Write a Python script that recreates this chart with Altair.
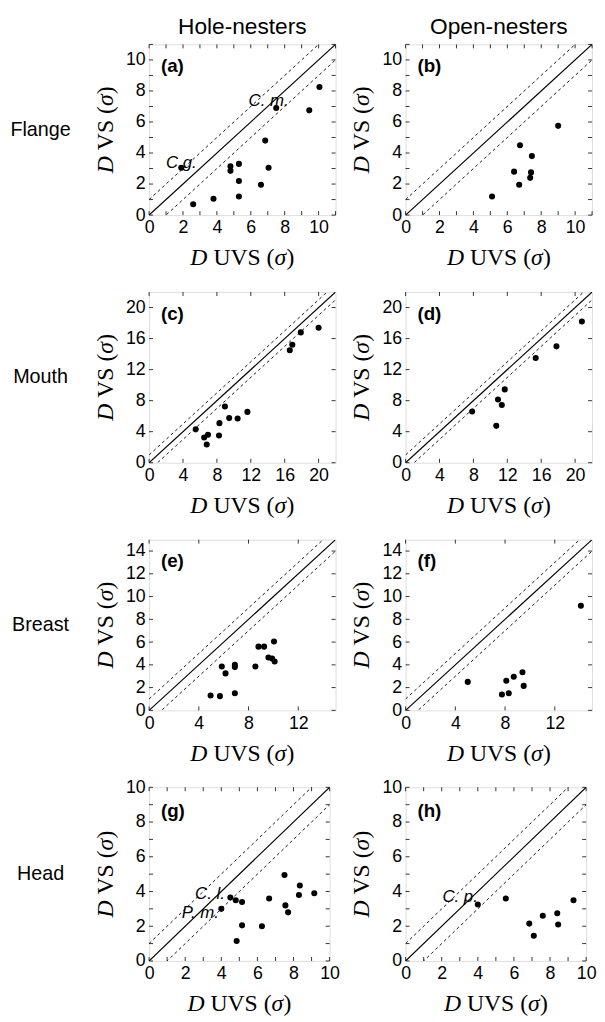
import altair as alt
import pandas as pd

# ---------------- data ----------------
flange_hole_x = [1.9, 2.6, 3.8, 4.8, 4.8, 5.3, 5.3, 5.3, 6.6, 6.85, 7.05, 7.5, 9.45, 10.05]
flange_hole_y = [3.05, 0.7, 1.05, 3.15, 2.85, 3.3, 2.2, 1.2, 1.95, 4.8, 3.05, 6.9, 6.75, 8.25]
flange_open_x = [5.1, 6.4, 6.7, 6.75, 7.35, 7.4, 7.45, 9.0]
flange_open_y = [1.2, 2.8, 1.95, 4.5, 2.4, 2.75, 3.8, 5.75]

mouth_hole_x = [5.5, 6.5, 6.95, 6.8, 8.3, 8.25, 8.95, 9.45, 10.45, 11.6, 16.6, 16.9, 17.9, 20.0]
mouth_hole_y = [4.3, 3.25, 3.6, 2.35, 5.1, 3.5, 7.25, 5.75, 5.7, 6.55, 14.5, 15.2, 16.8, 17.4]
mouth_open_x = [7.85, 10.7, 10.9, 11.35, 11.7, 15.35, 17.8, 20.8]
mouth_open_y = [6.6, 4.75, 8.15, 7.45, 9.45, 13.5, 15.0, 18.2]

breast_hole_x = [4.95, 5.7, 5.85, 6.15, 6.9, 6.9, 6.9, 8.55, 8.8, 9.25, 9.6, 9.9, 10.1, 10.05]
breast_hole_y = [1.3, 1.25, 3.85, 3.25, 4.0, 3.8, 1.5, 3.85, 5.6, 5.6, 4.65, 4.55, 4.3, 6.05]
breast_open_x = [5.0, 7.75, 8.3, 8.1, 8.7, 9.4, 9.5, 14.1]
breast_open_y = [2.5, 1.4, 1.5, 2.6, 2.95, 3.35, 2.15, 9.2]

head_hole_x = [4.0, 4.5, 4.8, 5.15, 5.15, 4.85, 6.25, 6.65, 7.5, 7.55, 7.7, 8.35, 8.3, 9.15]
head_hole_y = [3.0, 3.65, 3.5, 3.4, 2.05, 1.15, 2.0, 3.6, 4.95, 3.2, 2.8, 4.35, 3.8, 3.9]
head_open_x = [4.0, 5.55, 6.85, 7.1, 7.6, 8.4, 8.45, 9.3]
head_open_y = [3.25, 3.6, 2.15, 1.45, 2.6, 2.75, 2.1, 3.5]

row_names = ["Flange", "Mouth", "Breast", "Head"]
col_names = ["Hole-nesters", "Open-nesters"]
panel_letters = ["(a)", "(b)", "(c)", "(d)", "(e)", "(f)", "(g)", "(h)"]

axis_max = [11, 22, 15, 10]
x_labels = [[0, 2, 4, 6, 8, 10], [0, 4, 8, 12, 16, 20], [0, 4, 8, 12], [0, 2, 4, 6, 8, 10]]
y_labels = [[0, 2, 4, 6, 8, 10], [0, 4, 8, 12, 16, 20], [0, 2, 4, 6, 8, 10, 12, 14], [0, 2, 4, 6, 8, 10]]
x_ticks = [list(range(0, 12)), [0, 4, 8, 12, 16, 20], [0, 4, 8, 12], list(range(0, 11))]
y_ticks = [list(range(0, 12)), [0, 4, 8, 12, 16, 20], [0, 2, 4, 6, 8, 10, 12, 14], list(range(0, 11))]

diag_offsets = [0, 1, -1]

# species annotations: (panel index, point index, text)
notes = [(0, 0, "C.g."), (0, 11, "C. m."), (6, 0, "P. m."), (6, 1, "C. l."), (7, 0, "C. p.")]

# ---------------- styling ----------------
SANS = "Liberation Sans"
SERIF = "Liberation Serif"
panel_w = [189, 189, 189, 183]
panel_h = [173, 173, 173, 176]
note_style = {
    "C.g.": dict(align="center", dx=0, dy=-5),
    "C. m.": dict(align="left", dx=-28, dy=-7),
    "P. m.": dict(align="right", dx=-2.5, dy=4),
    "C. l.": dict(align="right", dx=-5.5, dy=-3.5),
    "C. p.": dict(align="right", dx=0, dy=-7.5),
}

one = pd.DataFrame({"a": [0]})


def txt(s, x, y, size, font, style="normal", weight="normal", align="left",
        baseline="alphabetic", angle=None):
    kw = dict(text=s, font=font, fontSize=size, fontStyle=style, fontWeight=weight,
              align=align, baseline=baseline, color="black")
    if angle is not None:
        kw["angle"] = angle
    return alt.Chart(one).mark_text(**kw).encode(x=alt.value(x), y=alt.value(y))


def axis_title(word, w, h, horizontal):
    S = 24
    em_D, em_sig, em_par = 0.722, 0.5, 0.333
    em_sp = 0.25
    em_mid = {"UVS": 0.722 + 0.722 + 0.556, "VS": 0.722 + 0.556}[word] + em_sp + em_par
    total = (em_D + em_sp + em_mid + em_sig + em_par) * S
    offs = [0, (em_D + em_sp) * S, (em_D + em_sp + em_mid) * S,
            (em_D + em_sp + em_mid + em_sig) * S]
    parts = [("D", "italic"), (word + " (", "normal"), ("σ", "italic"), (")", "normal")]
    out = []
    if horizontal:
        start = w / 2 - total / 2
        for (s, st), o in zip(parts, offs):
            out.append(txt(s, start + o, h + 51, S, SERIF, style=st))
    else:
        start = h / 2 + total / 2
        for (s, st), o in zip(parts, offs):
            out.append(txt(s, -36.7, start - o, S, SERIF, style=st, angle=270))
    return out


def panel(idx, xs, ys):
    r, c = idx // 2, idx % 2
    w, h, m = panel_w[r], panel_h[r], axis_max[r]
    xsc = alt.Scale(domain=[0, m], nice=False, zero=False)
    ysc = alt.Scale(domain=[0, m], nice=False, zero=False)
    ax_common = dict(title=None, grid=False, domain=False, ticks=False, tickSize=0,
                     labelFont=SANS, labelFontSize=18, labelColor="black",
                     labelPadding=4, labelOverlap=False)
    axx = alt.Axis(values=x_labels[r], labelFlush=False, **ax_common)
    axy = alt.Axis(values=y_labels[r], **ax_common)

    X = lambda: alt.X("x:Q", scale=xsc, axis=axx)
    Y = lambda: alt.Y("y:Q", scale=ysc, axis=axy)

    rows = []
    for k, off in enumerate(diag_offsets):
        rows.append({"x": 0, "y": 0 + off, "k": k})
        rows.append({"x": m, "y": m + off, "k": k})
    diag = pd.DataFrame(rows)

    layers = []
    pts = pd.DataFrame({"x": xs, "y": ys})
    layers.append(alt.Chart(pts).mark_circle(size=38, color="black", opacity=1)
                  .encode(x=X(), y=Y()))
    layers.append(alt.Chart(diag[diag.k == 0]).mark_line(color="black", strokeWidth=1.2, clip=True)
                  .encode(x=X(), y=Y()))
    layers.append(alt.Chart(diag[diag.k != 0]).mark_line(color="black", strokeWidth=0.9,
                                                          strokeDash=[3, 3], clip=True)
                  .encode(x=X(), y=Y(), detail="k:N"))

    tx = pd.DataFrame({"x": x_ticks[r]})
    ty = pd.DataFrame({"y": y_ticks[r]})
    rule = dict(color="black", strokeWidth=0.8)
    layers.append(alt.Chart(tx).mark_rule(**rule).encode(x=X(), y=alt.value(h - 4), y2=alt.value(h)))
    layers.append(alt.Chart(tx).mark_rule(**rule).encode(x=X(), y=alt.value(0), y2=alt.value(4)))
    layers.append(alt.Chart(ty).mark_rule(**rule).encode(y=Y(), x=alt.value(0), x2=alt.value(4)))
    layers.append(alt.Chart(ty).mark_rule(**rule).encode(y=Y(), x=alt.value(w - 4), x2=alt.value(w)))

    for (pi, k, lab) in notes:
        if pi == idx:
            st = note_style[lab]
            d = pd.DataFrame({"x": [xs[k]], "y": [ys[k]]})
            layers.append(alt.Chart(d).mark_text(text=lab, font=SANS, fontSize=17,
                                                 fontStyle="italic", color="black",
                                                 align=st["align"], dx=st["dx"], dy=st["dy"])
                          .encode(x=X(), y=Y()))

    layers.append(txt(panel_letters[idx], 12, 28 if h == 173 else 30, 19, SANS, weight="bold"))
    layers += axis_title("UVS", w, h, True)
    layers += axis_title("VS", w, h, False)
    if c == 0:
        layers.append(txt(row_names[r], -110, h / 2, 20, SANS, align="center", baseline="middle"))
    if r == 0:
        layers.append(txt(col_names[c], w / 2, -11, 23, SANS, align="center"))

    return alt.layer(*layers).properties(width=w, height=h)


series = [
    (flange_hole_x, flange_hole_y), (flange_open_x, flange_open_y),
    (mouth_hole_x, mouth_hole_y), (mouth_open_x, mouth_open_y),
    (breast_hole_x, breast_hole_y), (breast_open_x, breast_open_y),
    (head_hole_x, head_hole_y), (head_open_x, head_open_y),
]
panels = [panel(i, sx, sy) for i, (sx, sy) in enumerate(series)]

chart = alt.concat(*panels, columns=2, spacing={"row": 78, "column": 71},
                   bounds="flush", align="each").properties(
    padding={"left": 1, "top": 0, "right": 0, "bottom": 0}
).configure_view(stroke="black", strokeWidth=1).configure(background="white")

chart.save("out.html", embed_options={"renderer": "svg", "actions": False})
